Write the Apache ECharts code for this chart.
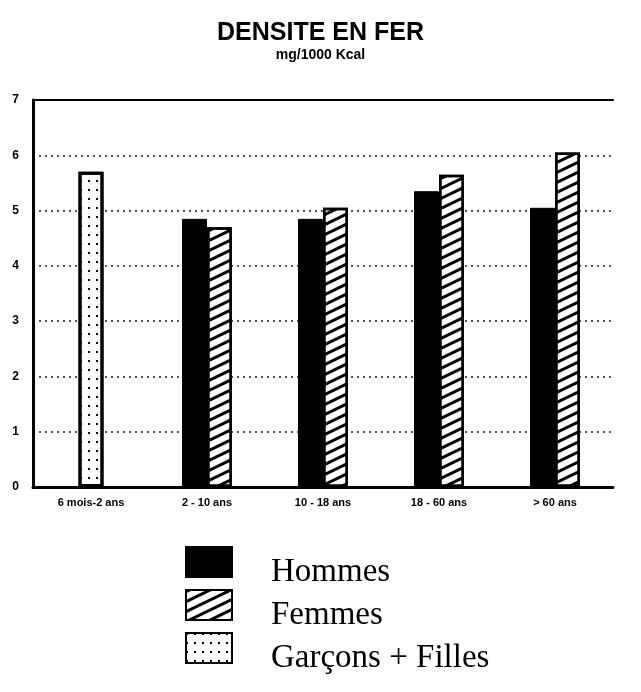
<!DOCTYPE html>
<html>
<head>
<meta charset="utf-8">
<script src="https://cdn.jsdelivr.net/npm/echarts@6/dist/echarts.min.js"></script>
<style>
html,body{margin:0;padding:0;background:#fff;}
#chart{width:641px;height:692px;}
</style>
</head>
<body>
<div id="chart"></div>
<script>
const categories = ['6 mois-2 ans', '2 - 10 ans', '10 - 18 ans', '18 - 60 ans', '> 60 ans'];
const hommes = [null, 4.85, 4.85, 5.35, 5.05];
const femmes = [null, 4.7, 5.05, 5.65, 6.05];
const garconsFilles = [5.7, null, null, null, null];
const seriesNames = ['Hommes', 'Femmes', 'Garçons + Filles'];
const yMin = 0, yMax = 7, yStep = 1;

const chart = echarts.init(document.getElementById('chart'), null, {renderer: 'canvas'});
const sansBold = {fontFamily: 'Liberation Sans', fontWeight: 'bold', color: '#000'};

const legendTops = [541, 584, 627];
const legends = seriesNames.map((n, i) => ({
  orient: 'vertical',
  left: 180,
  top: legendTops[i],
  icon: 'rect',
  itemWidth: 46,
  itemHeight: 30,
  data: [n],
  formatter: '{t|{name}}',
  textStyle: {
    fontFamily: 'Liberation Serif', fontSize: 33, color: '#000',
    rich: {t: {fontFamily: 'Liberation Serif', fontSize: 33, color: '#000', padding: [20, 0, 0, 34]}}
  },
  selectedMode: false
}));

chart.setOption({
  backgroundColor: '#fff',
  animation: false,
  title: {
    text: 'DENSITE EN FER',
    subtext: 'mg/1000 Kcal',
    left: 'center',
    top: 16,
    itemGap: 2,
    textStyle: Object.assign({}, sansBold, {fontSize: 25}),
    subtextStyle: Object.assign({}, sansBold, {fontSize: 14})
  },
  legend: legends,
  grid: {left: 33, right: 28, top: 100, bottom: 205},
  xAxis: [
    {
      type: 'category',
      data: categories,
      position: 'bottom',
      axisLine: {lineStyle: {color: '#000', width: 3}},
      axisTick: {show: false},
      axisLabel: Object.assign({}, sansBold, {fontSize: 11, margin: 10, interval: 0})
    },
    {
      type: 'category',
      data: categories,
      position: 'top',
      axisLine: {lineStyle: {color: '#000', width: 2}},
      axisTick: {show: false},
      axisLabel: {show: false}
    }
  ],
  yAxis: {
    type: 'value',
    min: yMin,
    max: yMax,
    interval: yStep,
    axisLine: {show: true, lineStyle: {color: '#000', width: 3}},
    axisTick: {show: false},
    axisLabel: Object.assign({}, sansBold, {fontSize: 12, margin: 14}),
    splitLine: {lineStyle: {color: '#222', type: [2, 4], width: 1.5}}
  },
  series: [
    {
      name: seriesNames[0],
      type: 'bar',
      xAxisIndex: 0,
      data: hommes,
      barWidth: 25,
      barGap: '0%',
      itemStyle: {color: '#000', borderColor: '#000', borderWidth: 1}
    },
    {
      name: seriesNames[1],
      type: 'bar',
      xAxisIndex: 0,
      data: femmes,
      barWidth: 25,
      barGap: '0%',
      itemStyle: {
        color: '#fff', borderColor: '#000', borderWidth: 2.5,
        decal: {symbol: 'rect', symbolSize: 1, color: '#000', dashArrayX: [1, 0], dashArrayY: [2.5, 6], rotation: -0.45}
      }
    },
    {
      name: seriesNames[2],
      type: 'bar',
      xAxisIndex: 1,
      data: garconsFilles,
      barWidth: 25,
      itemStyle: {
        color: '#fff', borderColor: '#000', borderWidth: 3,
        decal: {symbol: 'rect', symbolSize: 1, color: '#000', dashArrayX: [2, 6], dashArrayY: [2, 7], rotation: 0}
      }
    }
  ]
});
</script>
</body>
</html>
